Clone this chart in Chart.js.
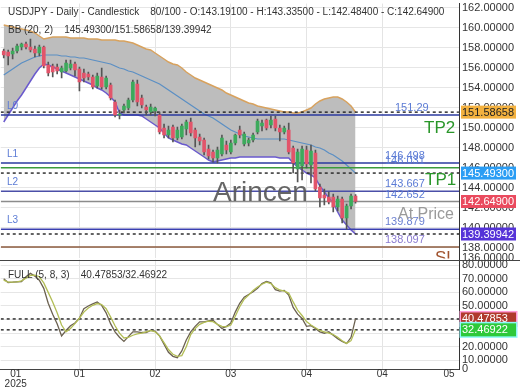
<!DOCTYPE html>
<html><head><meta charset="utf-8">
<script src="https://cdn.jsdelivr.net/npm/chart.js@4.4.1/dist/chart.umd.min.js"></script>
<style>
html,body{margin:0;padding:0;background:#fff;overflow:hidden;width:520px;height:390px;}
#top{position:absolute;left:0;top:0;}
#bot{position:absolute;left:0;top:256px;}
</style></head><body>
<canvas id="top" width="520" height="262"></canvas>
<canvas id="bot" width="520" height="134"></canvas>
<script>
// ---- data (bar index 0..79 = daily candles) ----
const OPEN  = [157.7,157.6,157.4,157.7,158.1,158.4,158.1,157.9,157.5,158.1,
               156.3,156.2,156.1,155.6,155.7,156.0,156.4,155.9,155.5,155.4,
               155.1,154.2,155.1,154.1,154.3,152.6,151.3,151.8,152.0,152.8,
               154.4,153.0,152.1,151.6,151.7,151.3,150.0,149.3,150.1,149.0,
               149.1,149.9,150.6,149.8,149.1,148.8,147.9,147.6,147.0,147.4,
               148.3,147.6,148.5,149.8,148.4,148.5,148.8,149.6,150.2,150.8,
               150.3,150.9,150.0,149.6,149.8,148.0,145.9,146.2,147.8,146.3,
               147.5,144.1,143.3,143.1,143.1,142.1,142.9,141.0,142.2,143.191];
const HIGH  = [157.9,157.8,158.0,158.4,158.5,158.6,158.9,158.2,158.3,158.2,
               156.6,156.4,156.4,156.2,156.8,156.8,156.6,156.1,155.9,155.6,
               155.3,155.5,156.0,155.2,154.5,152.8,151.8,152.4,153.0,154.8,
               154.8,153.3,152.3,152.4,152.1,151.6,150.4,150.2,150.3,150.1,
               150.4,150.8,151.0,150.0,149.4,149.0,148.3,147.8,148.1,149.3,
               148.7,148.8,149.4,150.2,149.6,149.0,149.5,150.9,150.8,150.9,
               151.2,151.2,150.3,150.2,150.5,148.2,147.9,148.2,148.2,148.3,
               147.8,144.4,143.9,143.6,143.4,143.2,143.1,142.4,143.4,143.335];
const LOW   = [157.0,156.3,156.9,157.5,157.8,157.9,157.6,157.1,157.2,156.0,
               155.2,155.1,155.4,155.0,155.6,155.8,155.2,153.7,154.6,154.8,
               153.9,154.0,153.9,153.9,152.8,151.1,150.9,151.5,151.8,152.6,
               152.2,152.0,151.3,151.3,151.2,149.4,149.0,149.0,148.6,148.8,
               148.9,149.3,149.2,148.1,148.3,147.3,146.9,146.6,146.5,147.2,
               147.4,147.4,148.3,149.0,148.2,148.2,148.6,149.4,149.7,149.8,
               150.0,149.7,148.7,149.4,147.4,145.5,144.6,144.8,146.0,144.5,
               143.7,142.1,142.3,142.4,141.6,141.7,140.5,139.88,141.9,142.484];
const CLOSE = [157.3,157.2,157.7,158.2,158.4,158.1,157.8,157.5,158.1,156.2,
               155.5,155.6,155.7,156.0,156.5,156.4,155.8,154.6,155.0,155.1,
               154.1,155.2,154.1,155.0,153.0,151.3,151.4,152.2,152.8,154.6,
               152.6,152.3,151.8,152.1,152.0,149.6,149.3,149.8,149.0,149.8,
               150.2,150.6,149.5,149.0,148.7,147.6,147.2,147.0,147.8,149.0,
               147.8,148.5,149.3,149.3,149.4,148.8,149.3,150.7,150.5,150.0,
               150.8,150.0,149.6,150.0,147.6,146.5,147.6,147.9,146.4,147.7,
               143.9,143.0,143.0,142.6,142.1,142.9,141.0,142.2,143.2,142.649];
const BB_UPPER = [160.3,160.2,160.1,160.0,159.9,159.8,159.7,159.5,159.2,158.9,
                  159.0,159.1,159.1,159.1,159.1,159.0,159.0,159.0,159.0,158.9,
                  158.9,158.9,158.8,158.8,158.8,158.8,158.7,158.7,158.6,158.5,
                  158.3,158.1,157.9,157.8,157.5,157.2,156.9,156.6,156.4,156.3,
                  156.0,155.6,155.3,155.0,154.8,154.6,154.4,154.2,154.0,153.8,
                  153.5,153.3,153.1,152.9,152.7,152.5,152.4,152.2,152.1,152.0,
                  151.9,151.8,151.7,151.6,151.6,151.5,151.5,151.6,151.8,152.0,
                  152.4,152.7,152.9,153.0,153.1,153.1,152.9,152.6,152.2,151.58658];
const BB_MID   = [155.3,155.6,155.9,156.2,156.5,156.7,156.9,157.1,157.2,157.3,
                  157.3,157.3,157.3,157.2,157.2,157.1,157.1,157.0,157.0,156.9,
                  156.8,156.7,156.6,156.5,156.4,156.2,156.0,155.9,155.7,155.6,
                  155.4,155.2,155.0,154.8,154.6,154.4,154.1,153.8,153.5,153.2,
                  152.9,152.6,152.3,152.0,151.7,151.4,151.2,151.0,150.7,150.4,
                  150.1,149.8,149.6,149.4,149.2,149.1,149.0,148.9,148.9,148.9,
                  148.9,148.9,148.9,148.9,148.8,148.7,148.6,148.5,148.4,148.3,
                  148.1,148.0,147.8,147.5,147.3,147.0,146.7,146.3,145.9,145.493];
const BB_LOWER = [150.6,151.3,152.0,152.7,153.3,154.0,154.7,155.4,156.0,156.4,
                  156.3,156.1,155.9,155.7,155.5,155.3,155.1,154.9,154.7,154.5,
                  154.3,154.0,153.8,153.5,153.1,152.6,151.5,151.3,151.3,151.3,
                  151.3,151.2,150.9,150.6,150.3,150.0,149.5,149.0,148.8,148.6,
                  148.4,148.3,148.0,147.7,147.4,147.1,146.8,146.6,146.7,146.8,
                  146.9,147.0,147.0,147.1,147.1,147.1,147.1,147.1,147.1,147.1,
                  147.1,147.1,147.0,147.0,147.0,146.5,146.1,145.8,145.5,145.3,
                  145.0,144.2,143.6,143.0,142.5,141.6,140.8,140.3,139.8,139.39942];
const STOCH_K = [70,67.3,67.5,67.8,68,71.5,74,72,69,63,
                 52,44,37,28,32,35.5,37.5,41,48,50,
                 51.5,53,50.5,45,37,31,27,24,27.5,31,
                 31,30.5,30.5,32,31.5,28,22,16,13,12,
                 17,25,31,35,38.4,38.4,39,39.6,36.5,33.5,
                 35,37.5,45.5,52,56.5,58.5,60.5,63,66.5,68,
                 67,62,61,61.5,58,49,44,40.8,35,35.5,
                 33.5,31,30,31,28.5,26,24,22.4,27,40.47853];
const STOCH_D = [69,67.5,67.5,67.8,68.5,70.5,72.5,72.7,71.5,67,
                 60,53,45,36,31,33.5,37,41,45.5,48.5,
                 50.5,51.8,51,48,42,35.5,30,26.5,27,28.5,
                 29.5,30,31,32,31,28,23,18,14.5,13,
                 13.5,20,29,33.5,36.5,38,38.8,38.5,36.5,35,
                 34.7,36,42.5,49.5,55,58,61.5,64,66,67.5,
                 66.5,63.5,61.8,61,59.5,53,47,43,38.5,36,
                 34,32,31,30,29,27,24.5,22.5,24.5,32.46922];
const LEVELS       = [151.29, 146.498, 146.031, 143.667, 142.652, 139.879, 138.097];
const LEVEL_TEXT   = ['151.29','146.498','146.031','143.667','142.652','139.879','138.097'];
const LEVEL_NAMES  = ['L0','L1','','L2','','L3',''];
const PRICE_TICKS  = [138,140,142,144,146,148,150,152,154,156,158,160,162];
const PRICE_EDGE_LABEL = '136.00000';
const STOCH_TICKS  = [10,20,30,40,50,60,70,80];
const STOCH_EDGE_LABEL = '0';
const X_TICK_POS    = [2.7,17,34,51,68,85,100];
const X_TICK_LABELS = [['01','2025'],'01','02','03','04','04','05'];
const SYMBOL_TITLE = 'USDJPY - Daily - Candlestick';
const BAR_COUNT_TEXT = '80/100';
const BB_TITLE = 'BB (20, 2)';
const STOCH_TITLE = 'FULL (5, 8, 3)';

// ---- styles ----
const LEVEL_STYLE = [
  {c:'#2b3a9f'},{c:'#2b3a9f'},{c:'#3c9a3c'},{c:'#4b4fa8'},{c:'#8c8c8c'},{c:'#3a3fb0'},{c:'#8b5a3c'}];
const LABEL_COLOR = ['#5b7bd5','#5b7bd5','#5b7bd5','#5b7bd5','#5b7bd5','#6a7fd0','#8a7bd0'];
const GREEN = '#3daa5c', RED = '#e2546a';
const FONT = '"Liberation Sans", Arial, sans-serif';
Chart.defaults.font.family = FONT;

const X_MIN = -0.67, X_MAX = 102.24;
const last = a => a[a.length - 1];
const series = arr => arr.map((v, i) => ({x: i, y: v}));
const hline = (v, color, width, dash, order) => ({
  type: 'line', data: [{x: X_MIN, y: v}, {x: X_MAX, y: v}], borderColor: color,
  borderWidth: width, borderDash: dash || [], pointRadius: 0, fill: false, order});

const gridX = ctx => (ctx.index > 0 && ctx.index < X_TICK_POS.length - 1) ? '#e4e4e4' : 'rgba(0,0,0,0)';
const xScaleBase = {
  type: 'linear', min: X_MIN, max: X_MAX, offset: false,
  afterBuildTicks: s => { s.ticks = X_TICK_POS.map(v => ({value: v})); },
  grid: {color: gridX, drawTicks: false, offset: false}
};

function text(ctx, s, x, y, font, color, align, base) {
  ctx.font = font; ctx.fillStyle = color; ctx.textAlign = align || 'left';
  ctx.textBaseline = base || 'middle'; ctx.fillText(s, x, y);
}
function tag(ctx, yy, s, bg, fg, border) {
  if (border) { ctx.fillStyle = border; ctx.fillRect(459.5, yy - 8, 58, 16); }
  ctx.fillStyle = bg; ctx.fillRect(461, yy - 6.5, 55, 13);
  text(ctx, s, 462, yy + 0.5, '11px ' + FONT, fg);
}

// ---- top (price) chart ----
const datasetsTop = [];
datasetsTop.push({type: 'bar', data: OPEN.map((o, i) => ({x: i, y: [o, CLOSE[i]]})),
  backgroundColor: c => CLOSE[c.dataIndex] >= OPEN[c.dataIndex] ? GREEN : RED,
  barThickness: 3, grouped: false, minBarLength: 1, borderWidth: 0, order: 0});
datasetsTop.push({type: 'bar', data: LOW.map((l, i) => ({x: i, y: [l, HIGH[i]]})),
  backgroundColor: '#555', barThickness: 1, grouped: false, borderWidth: 0, order: 1});
LEVELS.forEach((v, k) => datasetsTop.push(hline(v, LEVEL_STYLE[k].c, 1.5, [], 2)));
[last(BB_UPPER), last(BB_MID), last(BB_LOWER)].forEach(v => datasetsTop.push(hline(v, '#222', 1.4, [3, 3], 2)));
datasetsTop.push({type: 'line', data: series(BB_MID), borderColor: '#5b8fc4', borderWidth: 1.2, pointRadius: 0, fill: false, order: 3});
const LOWER_IDX = datasetsTop.length;
datasetsTop.push({type: 'line', data: series(BB_LOWER), borderColor: '#6a5acd', borderWidth: 1.5, pointRadius: 0, fill: false, order: 3});
datasetsTop.push({type: 'line', data: series(BB_UPPER), borderColor: '#d8a25e', borderWidth: 1.5, pointRadius: 0,
  fill: {target: LOWER_IDX}, backgroundColor: '#bdbdbd', order: 4});

const topDeco = {
  id: 'topDeco',
  afterDatasetsDraw(chart) {
    const {ctx, chartArea: a, scales: {y}} = chart;
    ctx.save();
    ctx.beginPath(); ctx.rect(a.left, a.top, a.right - a.left, a.bottom - a.top); ctx.clip();
    LEVELS.forEach((v, k) => {
      const yy = y.getPixelForValue(v);
      text(ctx, LEVEL_TEXT[k], k === 0 ? 395 : 385, yy - 7, '11px ' + FONT, LABEL_COLOR[k]);
      if (LEVEL_NAMES[k]) text(ctx, LEVEL_NAMES[k], 7, yy - 9, '10px ' + FONT, '#5b7bd5');
    });
    text(ctx, 'Arincen', 213, y.getPixelForValue(143.45), '28px ' + FONT, 'rgba(85,85,85,0.9)');
    text(ctx, 'TP2', 424, y.getPixelForValue(150.0), '17px ' + FONT, '#2a962a');
    text(ctx, 'TP1', 425, y.getPixelForValue(144.8), '17px ' + FONT, '#2a962a');
    text(ctx, 'At Price', 398, y.getPixelForValue(141.3), '16px ' + FONT, '#9a9a9a');
    text(ctx, 'SL', 435, y.getPixelForValue(137.0), '17px ' + FONT, '#a0522d');
    ctx.restore();
  },
  afterDraw(chart) {
    const {ctx, scales: {y}} = chart;
    ctx.save();
    const n = CLOSE.length - 1;
    const f = v => v.toFixed(5);
    text(ctx, SYMBOL_TITLE + '    ' + BAR_COUNT_TEXT + ' - O:' + f(OPEN[n]) + ' - H:' + f(HIGH[n]) +
      ' - L:' + f(LOW[n]) + ' - C:' + f(CLOSE[n]), 8, 12, '10px ' + FONT, '#333');
    text(ctx, BB_TITLE + '    ' + f(last(BB_MID)) + '/' + f(last(BB_UPPER)) + '/' + f(last(BB_LOWER)),
      8, 30, '10px ' + FONT, '#333');
    tag(ctx, y.getPixelForValue(last(BB_UPPER)), f(last(BB_UPPER)), '#f3b13f', '#222');
    tag(ctx, y.getPixelForValue(last(BB_MID)), f(last(BB_MID)), '#2a9df4', '#fff');
    tag(ctx, y.getPixelForValue(last(CLOSE)), f(last(CLOSE)), '#ea4a5e', '#fff');
    tag(ctx, y.getPixelForValue(last(BB_LOWER)), f(last(BB_LOWER)), '#5533d8', '#fff');
    ctx.restore();
  }
};

const topChart = new Chart(document.getElementById('top'), {
  type: 'bar',
  data: {datasets: datasetsTop},
  options: {
    responsive: false, animation: false, events: [],
    layout: {padding: 0},
    plugins: {legend: {display: false}, tooltip: {enabled: false}},
    scales: {
      x: Object.assign({}, xScaleBase, {ticks: {display: false}, border: {display: false}}),
      y: {
        position: 'right', min: 136.95, max: 162.45,
        afterBuildTicks: s => { s.ticks = [{value: s.min}].concat(PRICE_TICKS.map(v => ({value: v}))); },
        ticks: {autoSkip: false, padding: 3, color: '#333', font: {size: 11, lineHeight: 0.1},
          callback: (v, i) => i === 0 ? PRICE_EDGE_LABEL : Number(v).toFixed(5)},
        grid: {color: c => c.index === 0 ? 'rgba(0,0,0,0)' : '#e6e6e6', drawTicks: false},
        border: {display: true, color: '#333'},
        afterFit: s => { s.width = 61; }
      }
    }
  },
  plugins: [topDeco]
});

// ---- bottom (stochastic) chart ----
const botDeco = {
  id: 'botDeco',
  afterDraw(chart) {
    const {ctx, chartArea: a, scales: {y}} = chart;
    ctx.save();
    ctx.strokeStyle = '#444'; ctx.lineWidth = 1;
    ctx.beginPath(); ctx.moveTo(0, Math.round(a.top) + 0.5); ctx.lineTo(520, Math.round(a.top) + 0.5); ctx.stroke();
    const f = v => v.toFixed(5);
    text(ctx, STOCH_TITLE + '    ' + f(last(STOCH_K)) + '/' + f(last(STOCH_D)), 8, 19, '10px ' + FONT, '#333');
    tag(ctx, y.getPixelForValue(last(STOCH_K)), f(last(STOCH_K)), '#b0392c', '#fff', '#ff9ad6');
    tag(ctx, y.getPixelForValue(last(STOCH_D)), f(last(STOCH_D)), '#2ec93a', '#fff', '#8ff7f7');
    ctx.restore();
  }
};

const botChart = new Chart(document.getElementById('bot'), {
  type: 'line',
  data: {datasets: [
    {data: series(STOCH_D), borderColor: '#b2bd55', borderWidth: 1.3, pointRadius: 0, fill: false, order: 0},
    {data: series(STOCH_K), borderColor: '#6b6150', borderWidth: 1.3, pointRadius: 0, fill: false, order: 1},
    hline(last(STOCH_K), '#222', 1.4, [3, 3], 2),
    hline(last(STOCH_D), '#222', 1.4, [3, 3], 2)
  ]},
  options: {
    responsive: false, animation: false, events: [],
    layout: {padding: 0},
    plugins: {legend: {display: false}, tooltip: {enabled: false}},
    scales: {
      x: Object.assign({}, xScaleBase, {
        ticks: {autoSkip: false, maxRotation: 0, padding: 0, color: '#333', font: {size: 10, lineHeight: 1},
          callback: (v, i) => X_TICK_LABELS[i]},
        border: {display: true, color: '#444'},
        afterFit: s => { s.height = 21; }
      }),
      y: {
        position: 'right', min: 3.7, max: 84.2,
        afterBuildTicks: s => { s.ticks = [{value: s.min}].concat(STOCH_TICKS.map(v => ({value: v}))); },
        ticks: {autoSkip: false, padding: 3, color: '#333', font: {size: 11, lineHeight: 0.1},
          callback: (v, i) => i === 0 ? STOCH_EDGE_LABEL : Number(v).toFixed(5)},
        grid: {color: c => c.index === 0 ? 'rgba(0,0,0,0)' : '#e6e6e6', drawTicks: false},
        border: {display: true, color: '#333'},
        afterFit: s => { s.width = 61; }
      }
    }
  },
  plugins: [botDeco]
});

// align value scales with the reference pixel grid
function fitRange(chart, refVal, refPx, pxPerUnit) {
  const a = chart.chartArea;
  const max = refVal + (refPx - a.top) / pxPerUnit;
  const min = max - (a.bottom - a.top) / pxPerUnit;
  chart.options.scales.y.min = min; chart.options.scales.y.max = max;
  chart.update('none');
}
fitRange(topChart, 162, 8, 10);
fitRange(botChart, 80, 265.2 - 256, 1.36);
</script>
</body></html>
